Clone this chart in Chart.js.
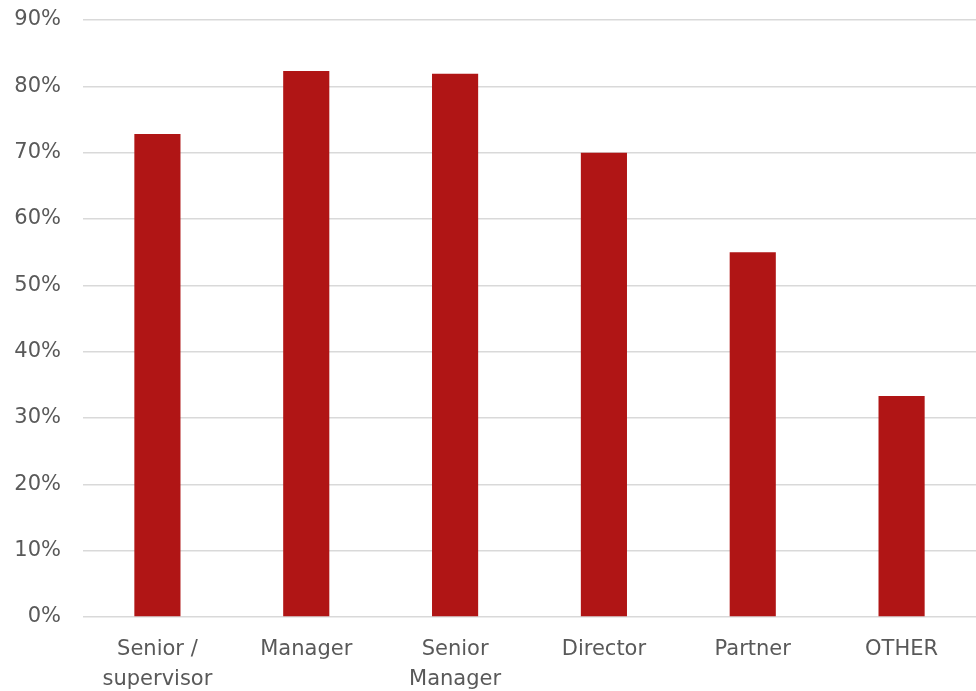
<!DOCTYPE html>
<html>
<head>
<meta charset="utf-8">
<script src="https://cdn.jsdelivr.net/npm/chart.js@4/dist/chart.umd.min.js"></script>
<style>
  html, body { margin: 0; padding: 0; background: #fff; }
  #wrap { width: 976px; height: 691px; }
</style>
</head>
<body>
<div id="wrap"><canvas id="myChart"></canvas></div>
<script>
// categories (multi-line labels as arrays)
const categories = [["Senior /", "supervisor"], "Manager", ["Senior", "Manager"], "Director", "Partner", "OTHER"];
// share of respondents, in percent
const values = [72.8, 82.3, 81.9, 70.0, 55.0, 33.3];
const yTicks = [0, 10, 20, 30, 40, 50, 60, 70, 80, 90];

const textColour = "#595959";
const gridColour = "#d9d9d9";
const barColour = "#b01515";

const ctx = document.getElementById("myChart").getContext("2d");

new Chart(ctx, {
	type: "bar",
	data: {
		labels: categories,
		datasets: [{
			data: values,
			backgroundColor: barColour,
			borderWidth: 0,
			barPercentage: 0.31,
			categoryPercentage: 1.0
		}]
	},
	options: {
		responsive: true,
		maintainAspectRatio: false,
		animation: false,
		layout: {
			padding: 0
		},
		plugins: {
			legend: { display: false },
			tooltip: { enabled: false }
		},
		scales: {
			x: {
				grid: { display: false },
				border: { display: false },
				ticks: {
					color: textColour,
					font: { family: "DejaVu Sans", size: 21, lineHeight: 1.45 },
					maxRotation: 0,
					padding: 9
				},
				afterFit: (scale) => { scale.height = 74; }
			},
			y: {
				min: 0,
				max: 90,
				afterBuildTicks: (scale) => {
					scale.ticks = yTicks.map(v => ({ value: v }));
				},
				grid: { color: gridColour, lineWidth: 1.5, drawTicks: false },
				border: { display: false },
				ticks: {
					color: textColour,
					font: { family: "DejaVu Sans", size: 21 },
					padding: 22,
					callback: (v) => v + "%"
				},
				afterFit: (scale) => {
					// tick padding would otherwise push the top gridline down
					scale.width = 83;
					scale.paddingTop = 20;
					scale.paddingBottom = 0;
				}
			}
		}
	}
});
</script>
</body>
</html>
